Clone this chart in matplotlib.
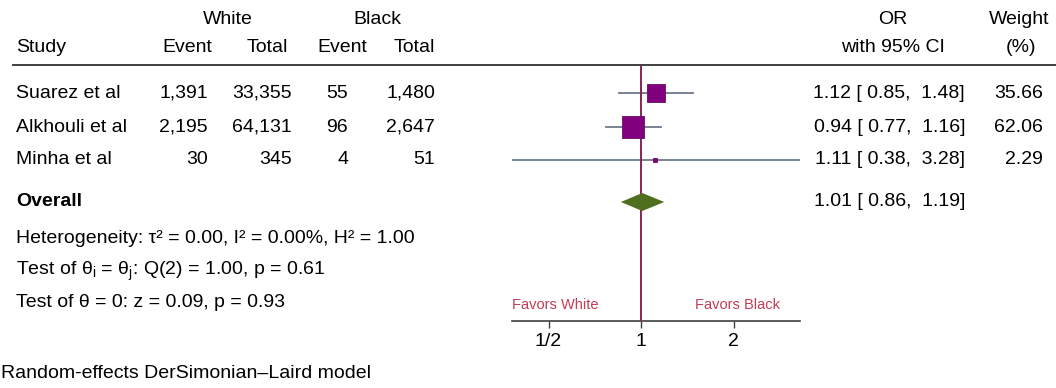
import numpy as np
import matplotlib.pyplot as plt

plt.rcParams['font.family'] = ['Liberation Sans', 'DejaVu Sans']
plt.rcParams['mathtext.fontset'] = 'custom'
plt.rcParams['mathtext.rm'] = 'Liberation Sans'
plt.rcParams['mathtext.it'] = 'Liberation Sans:italic'

# Study data
studies = ['Suarez et al', 'Alkhouli et al', 'Minha et al']
white_event = ['1,391', '2,195', '30']
white_total = ['33,355', '64,131', '345']
black_event = ['55', '96', '4']
black_total = ['1,480', '2,647', '51']
odds_ratio = [1.12, 0.94, 1.11]
ci_low = [0.85, 0.77, 0.38]
ci_high = [1.48, 1.16, 3.28]
weights = [35.66, 62.06, 2.29]

overall_or = 1.01
overall_low = 0.86
overall_high = 1.19

stats_lines = [
    'Heterogeneity: \u03c4\u00b2 = 0.00, I\u00b2 = 0.00%, H\u00b2 = 1.00',
    r'Test of $\mathregular{\theta_i}$ = $\mathregular{\theta_j}$: Q(2) = 1.00, p = 0.61',
    'Test of \u03b8 = 0: z = 0.09, p = 0.93',
]
tick_vals = [0.5, 1, 2]
tick_labels = ['1/2', '1', '2']

W, H = 1056, 388
fig = plt.figure(figsize=(W / 100, H / 100), dpi=100)

# text layer in pixel coordinates
tx = fig.add_axes([0, 0, 1, 1])
tx.set_xlim(0, W)
tx.set_ylim(H, 0)
tx.axis('off')

row_y = [93, 127, 160]
overall_y = 202
stats_base = [243, 275, 307]
fs = 14

# forest axes: log2 scale, 1 at ~641 px, ~92.5 px per doubling
lo, hi = min(ci_low), max(ci_high)
px_per = 92.5
x0 = 641 - np.log2(1 / lo) * px_per
x1 = 641 + np.log2(hi / 1) * px_per
y_top, y_bot = 65, 321
ax = fig.add_axes([x0 / W, 1 - y_bot / H, (x1 - x0) / W, (y_bot - y_top) / H])
ax.patch.set_alpha(0)
ax.set_xscale('log', base=2)
ax.set_xlim(lo, hi)
ax.set_ylim(y_bot, y_top)
for s in ['top', 'left', 'right']:
    ax.spines[s].set_visible(False)
ax.spines['bottom'].set_color('#404040')
ax.spines['bottom'].set_linewidth(1.2)
ax.set_yticks([])
ax.set_xticks(tick_vals)
ax.set_xticklabels(tick_labels, fontsize=fs)
ax.xaxis.set_minor_locator(plt.NullLocator())
ax.tick_params(axis='x', length=5, width=1, color='#404040', pad=4)

# CI lines
for i in range(len(studies)):
    ax.plot([ci_low[i], ci_high[i]], [row_y[i], row_y[i]], color='#6e7b8b', lw=1.3, zorder=2)

ax.axvline(1, color='#8b2252', lw=1.4, zorder=3)

# squares, area proportional to weight
max_w = max(weights)
for i in range(len(studies)):
    ms = 16.3 * np.sqrt(weights[i] / max_w)
    ax.plot(odds_ratio[i], row_y[i], marker='s', ms=ms, color='#800080',
            mec='#6a0a6a', mew=0.6, zorder=4)

# overall diamond
dh = 9
ax.fill([overall_low, overall_or, overall_high, overall_or],
        [overall_y, overall_y - dh, overall_y, overall_y + dh],
        color='#4f6f1f', zorder=4, lw=0)

fav_color = '#c43c55'
tx.text(512, 305, 'Favors White', fontsize=10.5, color=fav_color, ha='left', va='center')
tx.text(780, 305, 'Favors Black', fontsize=10.5, color=fav_color, ha='right', va='center')

# header
tx.text(228, 20, 'White', fontsize=fs, ha='center', va='center')
tx.text(377, 20, 'Black', fontsize=fs, ha='center', va='center')
tx.text(16, 47, 'Study', fontsize=fs, ha='left', va='center')
tx.text(212, 47, 'Event', fontsize=fs, ha='right', va='center')
tx.text(288, 47, 'Total', fontsize=fs, ha='right', va='center')
tx.text(367, 47, 'Event', fontsize=fs, ha='right', va='center')
tx.text(435, 47, 'Total', fontsize=fs, ha='right', va='center')
tx.text(893, 20, 'OR', fontsize=fs, ha='center', va='center')
tx.text(893, 47, 'with 95% CI', fontsize=fs, ha='center', va='center')
tx.text(1019, 20, 'Weight', fontsize=fs, ha='center', va='center')
tx.text(1021, 47, '(%)', fontsize=fs, ha='center', va='center')
tx.plot([13, W], [65, 65], color='#404040', lw=1.4)

# rows
for i in range(len(studies)):
    y = row_y[i]
    tx.text(16, y, studies[i], fontsize=fs, ha='left', va='center')
    tx.text(208, y, white_event[i], fontsize=fs, ha='right', va='center')
    tx.text(292, y, white_total[i], fontsize=fs, ha='right', va='center')
    tx.text(348, y, black_event[i], fontsize=fs, ha='right', va='center')
    tx.text(435, y, black_total[i], fontsize=fs, ha='right', va='center')
    tx.text(965, y, f'{odds_ratio[i]:.2f} [ {ci_low[i]:.2f},  {ci_high[i]:.2f}]',
            fontsize=fs, ha='right', va='center')
    tx.text(1043, y, f'{weights[i]:.2f}', fontsize=fs, ha='right', va='center')

tx.text(16, overall_y, 'Overall', fontsize=fs, fontweight='bold', ha='left', va='center')
tx.text(965, overall_y, f'{overall_or:.2f} [ {overall_low:.2f},  {overall_high:.2f}]',
        fontsize=fs, ha='right', va='center')

for line, y in zip(stats_lines, stats_base):
    tx.text(16, y, line, fontsize=fs, ha='left', va='baseline')

tx.text(1, 374, 'Random-effects DerSimonian\u2013Laird model', fontsize=fs, ha='left', va='center')

fig.savefig('out.png', dpi=100)
